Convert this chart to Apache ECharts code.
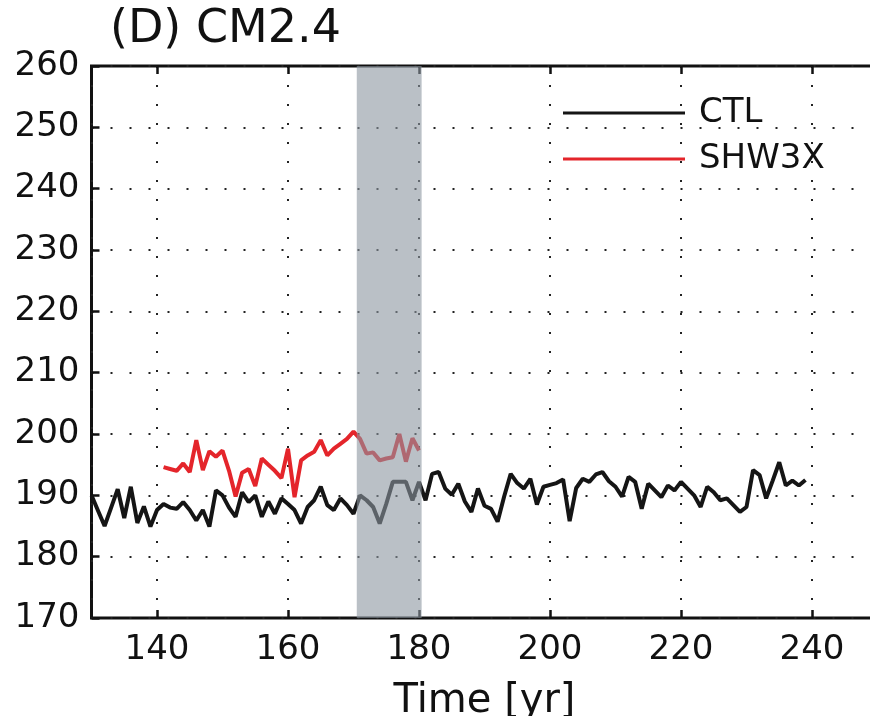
<!DOCTYPE html>
<html>
<head>
<meta charset="utf-8">
<script src="https://cdn.jsdelivr.net/npm/echarts@6/dist/echarts.min.js"></script>
<style>html,body{margin:0;padding:0;background:#fff}#c{width:870px;height:716px}</style>
</head>
<body>
<div id="c"></div>
<script>
const titleText = '(D) CM2.4';
const xName = 'Time [yr]';
const ctlStart = 130;
const ctlValues = [
  190.0,187.5,185.0,188.0,191.0,186.3,191.4,185.5,188.2,184.9,
  187.6,188.6,188.0,187.8,188.9,187.6,185.9,187.6,184.9,190.8,
  190.0,188.0,186.5,190.5,188.9,190.0,186.5,189.0,187.0,189.5,
  188.6,187.6,185.4,188.1,189.2,191.4,188.4,187.6,189.5,188.4,
  187.0,190.0,189.2,188.1,185.4,188.6,192.2,192.2,192.2,189.2,
  192.2,189.2,193.5,193.8,191.1,190.1,191.9,189.0,187.3,191.1,
  188.3,187.8,185.7,189.8,193.5,192.0,191.1,192.7,188.5,191.4,
  191.7,192.0,192.6,185.8,191.2,192.7,192.2,193.4,193.8,192.3,
  191.4,189.8,193.0,192.2,187.8,191.9,190.8,189.7,191.6,190.8,
  192.2,191.1,190.0,188.1,191.4,190.5,189.2,189.5,188.4,187.3,
  188.1,194.1,193.3,189.5,192.4,195.4,191.6,192.4,191.6,192.5
];
const shwStart = 141;
const shwValues = [
  194.6,194.3,194.0,195.2,193.8,199.0,194.1,197.2,196.3,197.3,
  194.0,189.8,193.7,194.3,191.5,196.0,195.0,194.0,192.8,197.6,
  189.7,195.7,196.5,197.1,199.0,196.5,197.6,198.4,199.2,200.4,
  199.2,196.8,197.0,195.7,196.0,196.2,200.0,195.5,199.3,197.3
];
const band = [170.5, 180.4];

const toPairs = (start, vals) => vals.map((v, i) => [start + i, v]);
const FONT = 'DejaVu Sans, Liberation Sans, Arial, sans-serif';
const chart = echarts.init(document.getElementById('c'));
chart.setOption({
  animation: false,
  backgroundColor: '#fff',
  title: {
    text: titleText, left: 105, top: 2,
    textStyle: { fontFamily: FONT, fontSize: 46, fontWeight: 'normal', color: '#111' }
  },
  grid: { left: 91.5, right: -7.5, top: 66, bottom: 98, show: true, borderColor: '#111', borderWidth: 3,
          containLabel: false, outerBoundsMode: 'none' },
  legend: {
    data: ['CTL', 'SHW3X'], orient: 'vertical', left: 563, top: 93, padding: 0,
    itemWidth: 122, itemHeight: 3, itemGap: 6, icon: 'rect',
    textStyle: { fontFamily: FONT, fontSize: 34, color: '#111', lineHeight: 40, padding: [0, 0, 0, 9] }
  },
  xAxis: [{
    type: 'value', min: 130, max: 250, splitNumber: 6,
    name: xName, nameLocation: 'middle', nameGap: 64,
    nameTextStyle: { fontFamily: FONT, fontSize: 40, color: '#111' },
    axisLine: { show: false },
    axisTick: { show: true, inside: true, length: 8, lineStyle: { color: '#111', width: 2.5 } },
    axisLabel: { showMinLabel: false, showMaxLabel: false, margin: 15, fontFamily: FONT, fontSize: 34, color: '#111' },
    splitLine: { show: true, lineStyle: { color: '#222', width: 2, type: [2, 17] } }
  }, {
    type: 'value', min: 130, max: 250, splitNumber: 6, position: 'top',
    axisLine: { show: false },
    axisTick: { show: true, inside: true, length: 8, lineStyle: { color: '#111', width: 2.5 } },
    axisLabel: { show: false }, splitLine: { show: false }
  }],
  yAxis: {
    type: 'value', min: 170, max: 260, interval: 10,
    axisLine: { show: false },
    axisTick: { show: true, inside: true, length: 8, lineStyle: { color: '#111', width: 2.5 } },
    axisLabel: { margin: 12, fontFamily: FONT, fontSize: 34, color: '#111' },
    splitLine: { show: true, lineStyle: { color: '#222', width: 2, type: [2, 17] } }
  },
  series: [
    {
      name: 'CTL', type: 'line', data: toPairs(ctlStart, ctlValues), showSymbol: false, symbol: 'none',
      lineStyle: { color: '#151515', width: 4 }, itemStyle: { color: '#151515' }, z: 3
    },
    {
      name: 'SHW3X', type: 'line', data: toPairs(shwStart, shwValues), showSymbol: false, symbol: 'none',
      lineStyle: { color: '#e4252b', width: 4 }, itemStyle: { color: '#e4252b' }, z: 4
    },
    {
      name: 'band', type: 'custom', data: [band], z: 10, silent: true,
      renderItem: function (params, api) {
        const p0 = api.coord([api.value(0), 260]);
        const p1 = api.coord([api.value(1), 170]);
        return { type: 'rect', shape: { x: p0[0], y: p0[1], width: p1[0] - p0[0], height: p1[1] - p0[1] },
                 style: { fill: 'rgba(140,150,160,0.6)' } };
      },
      encode: { x: [0, 1] }
    }
  ]
});
</script>
</body>
</html>
